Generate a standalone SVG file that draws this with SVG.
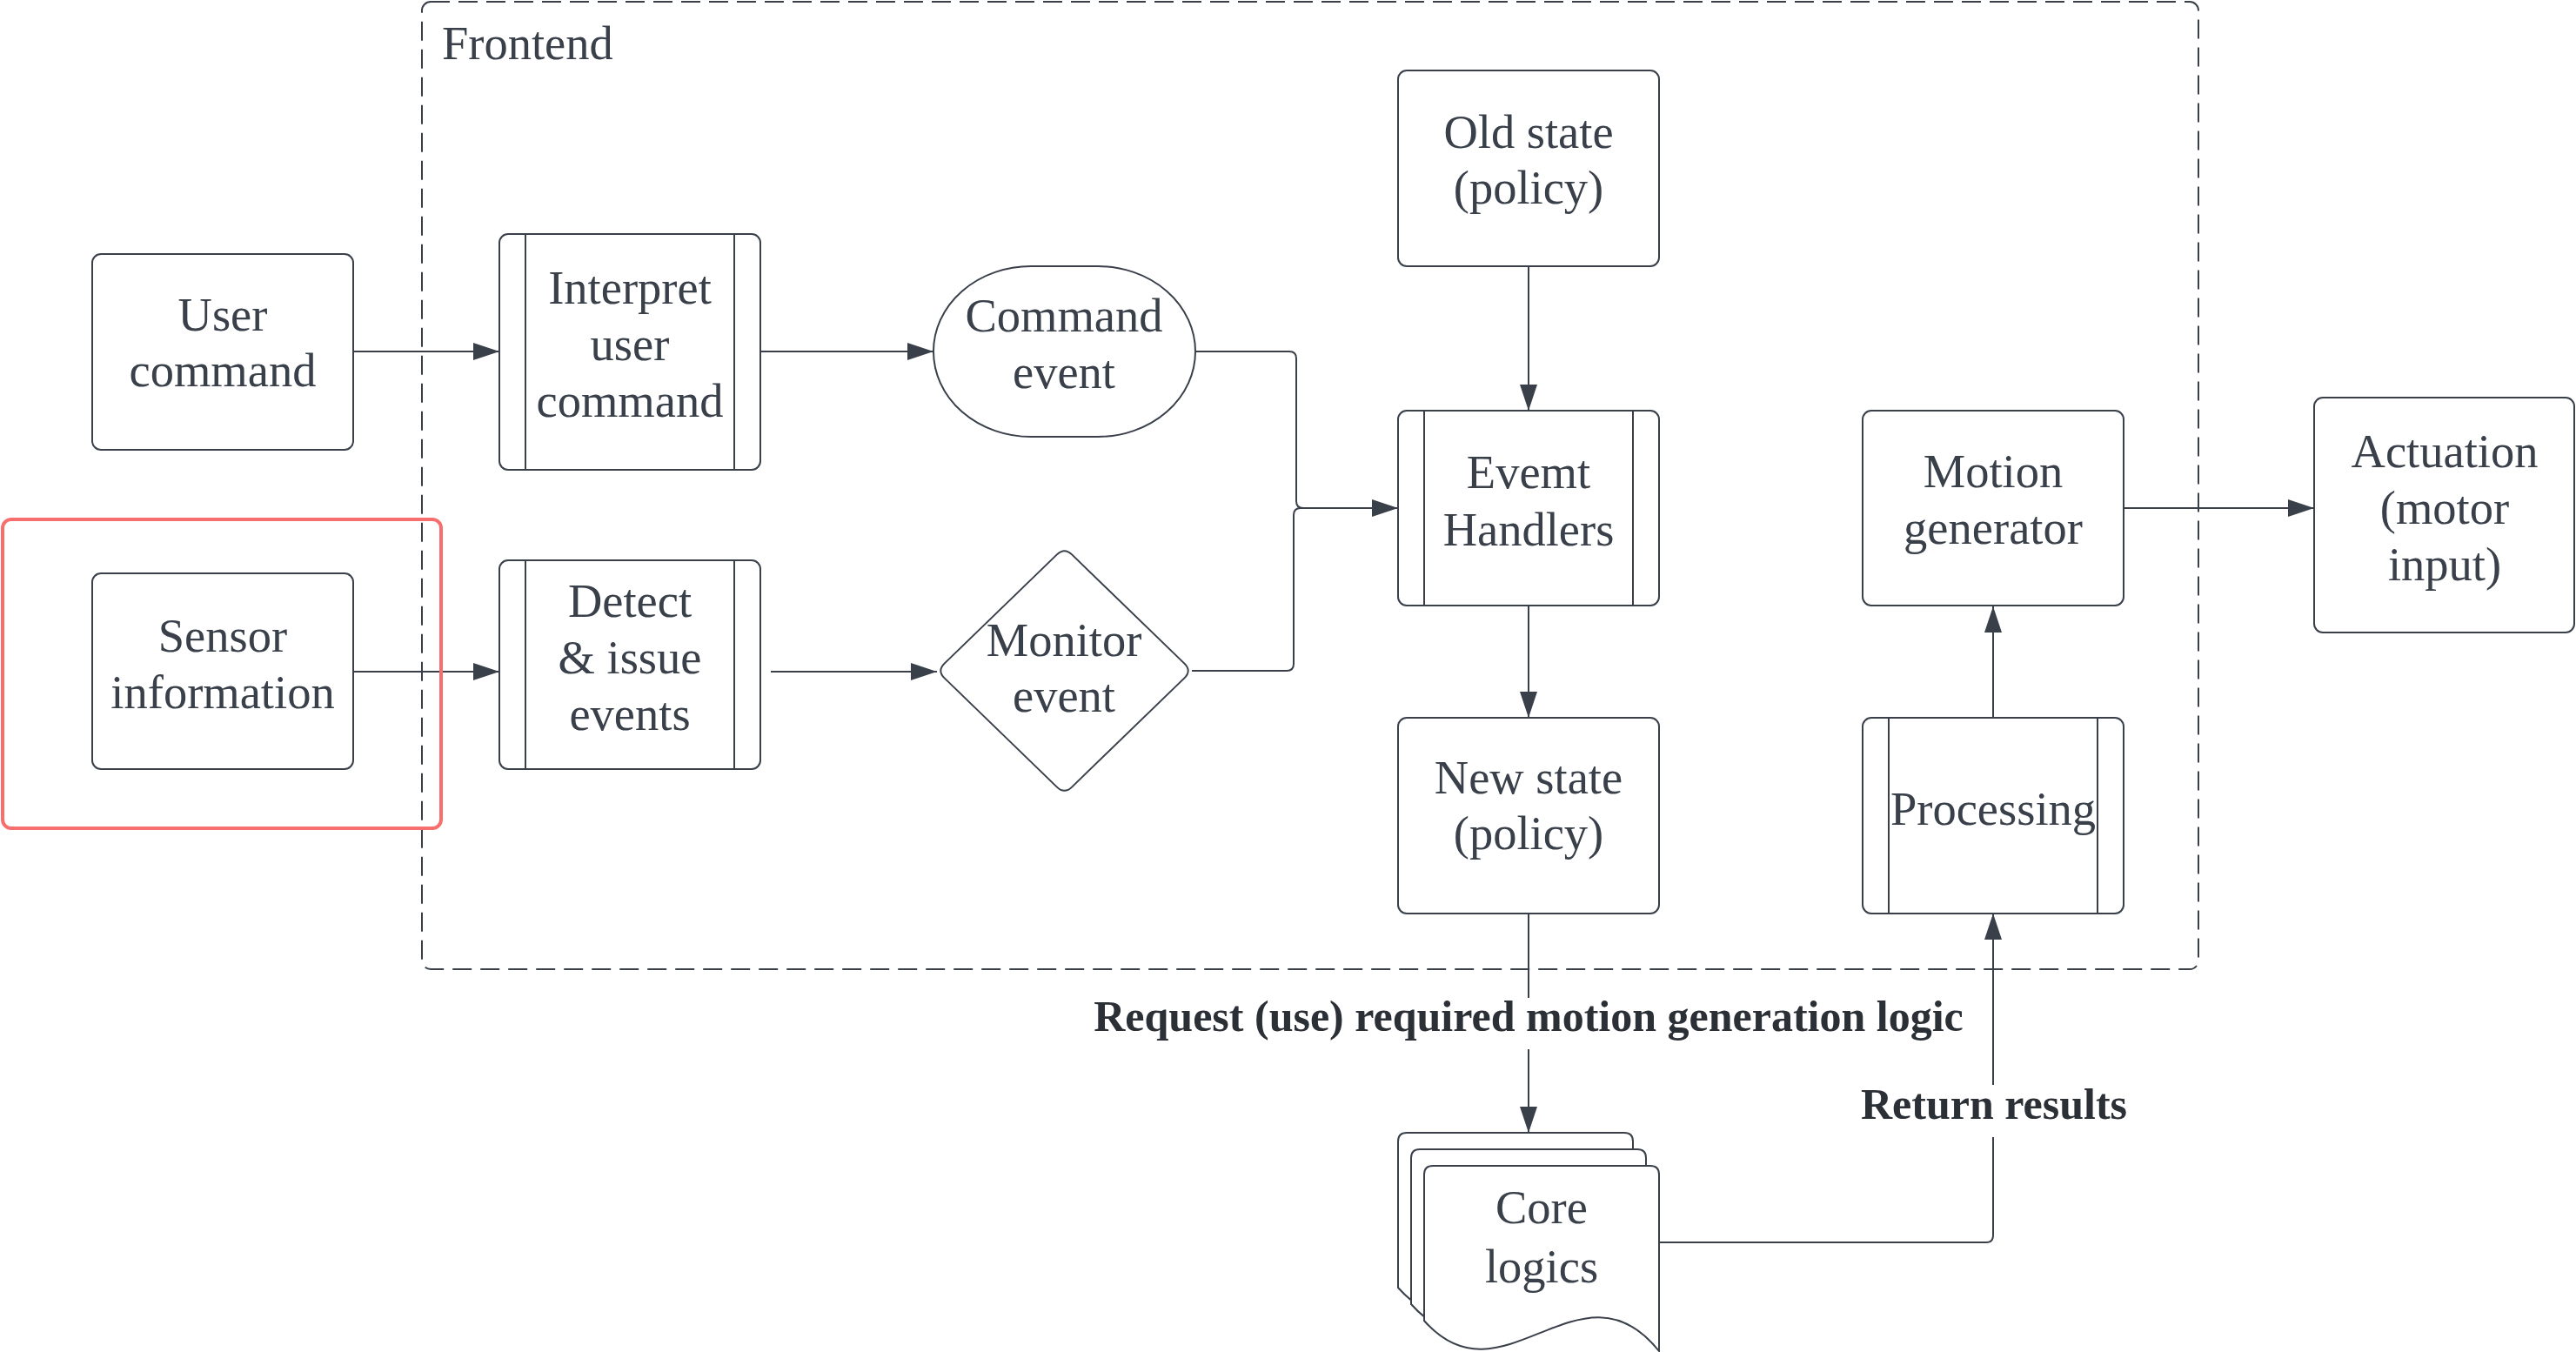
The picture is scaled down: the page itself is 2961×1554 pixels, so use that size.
<svg xmlns="http://www.w3.org/2000/svg" width="2961" height="1554" viewBox="0 0 2961 1554">
<defs>
<style>
.n{fill:#ffffff;stroke:#39404a;stroke-width:2}
.l{fill:none;stroke:#39404a;stroke-width:2}
.c{fill:none;stroke:#39404a;stroke-width:2}
.t{font-family:"Liberation Serif","Times New Roman",serif;font-size:54.5px;fill:#39404a;text-anchor:middle}
.b{font-family:"Liberation Serif","Times New Roman",serif;font-size:50px;font-weight:bold;fill:#2b2f36;text-anchor:middle}
</style>
<marker id="ah" markerUnits="userSpaceOnUse" markerWidth="30" markerHeight="20" refX="30" refY="10" orient="auto">
<path d="M0,0 L30,10 L0,20 Z" fill="#39404a"/>
</marker>
</defs>
<rect width="2961" height="1554" fill="#ffffff"/>

<g id="frontend">
<rect x="485" y="2" width="2042" height="1112" rx="10" fill="none" stroke="#39404a" stroke-width="2" stroke-dasharray="22 10"/>
<text x="508" y="68" class="t" style="text-anchor:start">Frontend</text>
</g>

<g id="connectors">
<path class="c" d="M406,404 H574" marker-end="url(#ah)"/>
<path class="c" d="M875,404 H1073" marker-end="url(#ah)"/>
<path class="c" d="M406,772 H574" marker-end="url(#ah)"/>
<path class="c" d="M886,772 H1077" marker-end="url(#ah)"/>
<path class="c" d="M1374,404 H1482 Q1490,404 1490,412 V576 Q1490,584 1498,584 H1607" marker-end="url(#ah)"/>
<path class="c" d="M1370,771 H1479 Q1487,771 1487,763 V592 Q1487,584 1495,584 H1540"/>
<path class="c" d="M1757,306 V472" marker-end="url(#ah)"/>
<path class="c" d="M1757,696 V825" marker-end="url(#ah)"/>
<path class="c" d="M1757,1050 V1147"/>
<path class="c" d="M1757,1206 V1302" marker-end="url(#ah)"/>
<path class="c" d="M1907,1428 H2283 Q2291,1428 2291,1420 V1307"/>
<path class="c" d="M2291,1247 V1050" marker-end="url(#ah)"/>
<path class="c" d="M2291,825 V697" marker-end="url(#ah)"/>
<path class="c" d="M2441,584 H2660" marker-end="url(#ah)"/>
<text x="1757" y="1185" class="b">Request (use) required motion generation logic</text>
<text x="2292" y="1286" class="b">Return results</text>
</g>

<g id="user-command">
<rect class="n" x="106" y="292" width="300" height="225" rx="10"/>
<text class="t" x="256" y="380">User</text>
<text class="t" x="256" y="444">command</text>
</g>

<g id="sensor-information">
<rect class="n" x="106" y="659" width="300" height="225" rx="10"/>
<text class="t" x="256" y="749">Sensor</text>
<text class="t" x="256" y="814">information</text>
</g>

<g id="highlight">
<rect x="3" y="597" width="504" height="355" rx="10" fill="none" stroke="#f76e6e" stroke-width="4"/>
</g>

<g id="interpret-user-command">
<rect class="n" x="574" y="269" width="300" height="271" rx="10"/>
<line class="l" x1="604" y1="269" x2="604" y2="540"/>
<line class="l" x1="844" y1="269" x2="844" y2="540"/>
<text class="t" x="724" y="349">Interpret</text>
<text class="t" x="724" y="414">user</text>
<text class="t" x="724" y="479">command</text>
</g>

<g id="detect-issue-events">
<rect class="n" x="574" y="644" width="300" height="240" rx="10"/>
<line class="l" x1="604" y1="644" x2="604" y2="884"/>
<line class="l" x1="844" y1="644" x2="844" y2="884"/>
<text class="t" x="724" y="709">Detect</text>
<text class="t" x="724" y="774">&amp; issue</text>
<text class="t" x="724" y="839">events</text>
</g>

<g id="command-event">
<rect class="n" x="1073" y="306" width="301" height="196" rx="112" ry="98"/>
<text class="t" x="1223" y="381">Command</text>
<text class="t" x="1223" y="446">event</text>
</g>

<g id="monitor-event">
<path class="n" d="M1085.6,762.6 L1214.9,637.4 Q1223.5,629 1232.1,637.4 L1361.4,762.6 Q1370,771 1361.4,779.4 L1232.1,904.6 Q1223.5,913 1214.9,904.6 L1085.6,779.4 Q1077,771 1085.6,762.6 Z"/>
<text class="t" x="1223" y="754">Monitor</text>
<text class="t" x="1223" y="818">event</text>
</g>

<g id="old-state">
<rect class="n" x="1607" y="81" width="300" height="225" rx="10"/>
<text class="t" x="1757" y="170">Old state</text>
<text class="t" x="1757" y="234">(policy)</text>
</g>

<g id="event-handlers">
<rect class="n" x="1607" y="472" width="300" height="224" rx="10"/>
<line class="l" x1="1637" y1="472" x2="1637" y2="696"/>
<line class="l" x1="1877" y1="472" x2="1877" y2="696"/>
<text class="t" x="1757" y="561">Evemt</text>
<text class="t" x="1757" y="627">Handlers</text>
</g>

<g id="new-state">
<rect class="n" x="1607" y="825" width="300" height="225" rx="10"/>
<text class="t" x="1757" y="912">New state</text>
<text class="t" x="1757" y="976">(policy)</text>
</g>

<g id="motion-generator">
<rect class="n" x="2141" y="472" width="300" height="224" rx="10"/>
<text class="t" x="2291" y="560">Motion</text>
<text class="t" x="2291" y="625">generator</text>
</g>

<g id="processing">
<rect class="n" x="2141" y="825" width="300" height="225" rx="10"/>
<line class="l" x1="2171" y1="825" x2="2171" y2="1050"/>
<line class="l" x1="2411" y1="825" x2="2411" y2="1050"/>
<text class="t" x="2291" y="948">Processing</text>
</g>

<g id="actuation">
<rect class="n" x="2660" y="457" width="299" height="270" rx="10"/>
<text class="t" x="2810" y="537">Actuation</text>
<text class="t" x="2810" y="602">(motor</text>
<text class="t" x="2810" y="667">input)</text>
</g>

<g id="core-logics">
<path class="n" d="M1607,1312 Q1607,1302 1617,1302 H1867 Q1877,1302 1877,1312 V1515 C1787,1402 1697,1582 1607,1480 Z"/>
<path class="n" d="M1622,1331 Q1622,1321 1632,1321 H1882 Q1892,1321 1892,1331 V1534 C1802,1421 1712,1601 1622,1499 Z"/>
<path class="n" d="M1637,1350 Q1637,1340 1647,1340 H1897 Q1907,1340 1907,1350 V1553 C1817,1440 1727,1620 1637,1518 Z"/>
<text class="t" x="1772" y="1406">Core</text>
<text class="t" x="1772" y="1474">logics</text>
</g>
</svg>
